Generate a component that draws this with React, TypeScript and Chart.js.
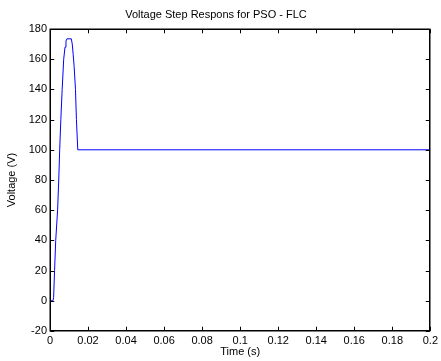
import React, { useEffect, useRef } from "react";
import { Chart, registerables } from "chart.js";

Chart.register(...registerables);

const timeValues = [0, 0.0015, 0.0019, 0.0024, 0.003, 0.004, 0.0046, 0.0051, 0.0057, 0.0064, 0.0072, 0.0079, 0.0084, 0.0089, 0.0112, 0.0117, 0.0122, 0.0127, 0.0134, 0.0139, 0.0146, 0.2];
const voltageValues = [0, 0, 2, 20, 40, 60, 80, 100, 120, 140, 160, 168, 172, 173.5, 173.5, 170, 163, 155, 140, 120, 100, 100];

const xTickLimits = { min: 0, max: 0.2, step: 0.02 };
const yTickLimits = { min: -20, max: 180, step: 20 };

const titleText = "Voltage Step Respons for PSO - FLC";
const xTitle = "Time (s)";
const yTitle = "Voltage (V)";

const FONT = "'Liberation Sans', Arial, sans-serif";

function drawBox(chart: any) {
  const ctx = chart.ctx;
  const area = chart.chartArea;
  const x = chart.scales.x;
  const y = chart.scales.y;
  const left = Math.round(area.left) + 0.25;
  const right = Math.round(area.right) - 0.25;
  const top = Math.round(area.top) + 0.25;
  const bottom = Math.round(area.bottom) - 0.25;
  ctx.save();
  ctx.strokeStyle = "#000000";
  ctx.lineWidth = 1.5;
  ctx.setLineDash([]);
  ctx.beginPath();
  ctx.moveTo(left, top);
  ctx.lineTo(right, top);
  ctx.lineTo(right, bottom);
  ctx.lineTo(left, bottom);
  ctx.closePath();
  ctx.stroke();
  const tl = 4;
  ctx.lineWidth = 1;
  ctx.beginPath();
  for (const t of x.ticks) {
    const px = Math.round(x.getPixelForValue(t.value)) + 0.5;
    ctx.moveTo(px, bottom);
    ctx.lineTo(px, bottom - tl);
    ctx.moveTo(px, top);
    ctx.lineTo(px, top + tl);
  }
  for (const t of y.ticks) {
    const py = Math.round(y.getPixelForValue(t.value)) + 0.5;
    ctx.moveTo(left, py);
    ctx.lineTo(left + tl, py);
    ctx.moveTo(right, py);
    ctx.lineTo(right - tl, py);
  }
  ctx.stroke();
  ctx.restore();
}

const boxPlugin = {
  id: "matlabBox",
  afterDatasetsDraw(chart: any) {
    drawBox(chart);
  },
};

export default function App() {
  const canvasRef = useRef<HTMLCanvasElement | null>(null);

  useEffect(() => {
    document.body.style.margin = "0";
    const canvas = canvasRef.current;
    if (!canvas) return;
    const points = timeValues.map((t, i) => ({ x: t, y: voltageValues[i] }));
    const chart = new Chart(canvas, {
      type: "scatter",
      data: {
        datasets: [
          {
            data: points,
            showLine: true,
            borderColor: "#0000ff",
            borderWidth: 1,
            pointRadius: 0,
            tension: 0,
          },
        ],
      },
      options: {
        responsive: false,
        animation: false,
        layout: { padding: { left: 0, right: 9, top: 0, bottom: 0 } },
        plugins: {
          legend: { display: false },
          tooltip: { enabled: false },
          title: {
            display: true,
            text: titleText,
            color: "#000",
            font: { family: FONT, size: 11, weight: "normal" },
            padding: { top: 8, bottom: 7.8 },
          },
        },
        scales: {
          x: {
            type: "linear",
            min: xTickLimits.min,
            max: xTickLimits.max,
            grid: { display: false, drawTicks: false, tickLength: 0 },
            border: { display: false },
            ticks: {
              stepSize: xTickLimits.step,
              color: "#000",
              padding: 3,
              maxRotation: 0,
              font: { family: FONT, size: 11 },
              callback: (v: any) => String(Number(Number(v).toFixed(3))),
            },
            title: {
              display: true,
              text: xTitle,
              color: "#000",
              font: { family: FONT, size: 11 },
              padding: { top: 0, bottom: 2 },
            },
            afterFit: (s: any) => {
              s.height = 30;
            },
          },
          y: {
            type: "linear",
            min: yTickLimits.min,
            max: yTickLimits.max,
            grid: { display: false, drawTicks: false, tickLength: 0 },
            border: { display: false },
            ticks: {
              stepSize: yTickLimits.step,
              color: "#000",
              padding: 3,
              font: { family: FONT, size: 11 },
            },
            title: {
              display: true,
              text: yTitle,
              color: "#000",
              font: { family: FONT, size: 11 },
              padding: { top: 5.7, bottom: 0 },
            },
            afterFit: (s: any) => {
              s.width = 50;
            },
          },
        },
      },
      plugins: [boxPlugin],
    });
    return () => chart.destroy();
  }, []);

  return (
    <div style={{ width: 441, height: 361, background: "#fff" }}>
      <canvas ref={canvasRef} width={441} height={361} />
    </div>
  );
}
